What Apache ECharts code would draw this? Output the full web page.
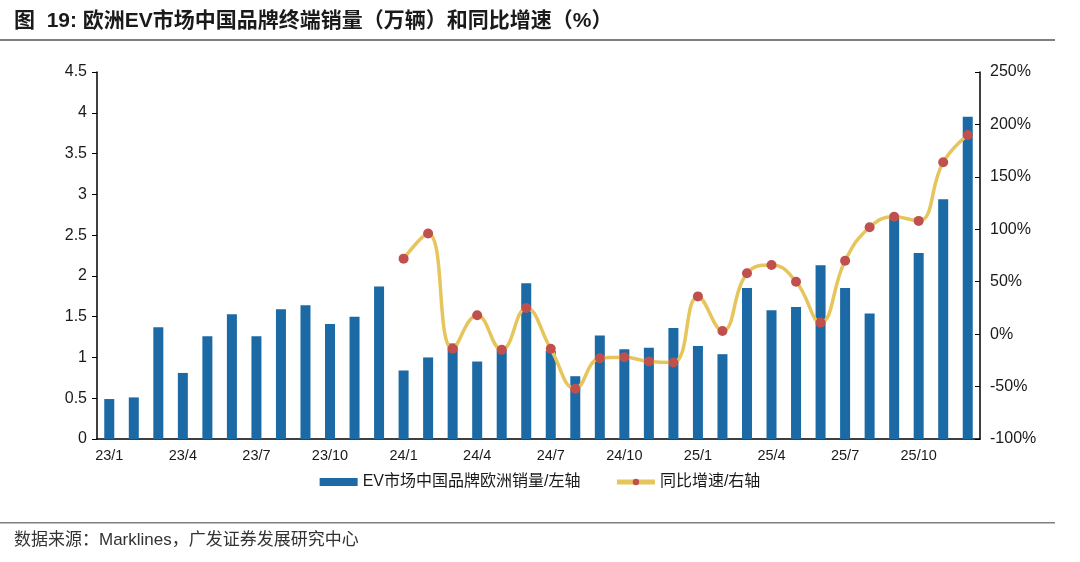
<!DOCTYPE html>
<html><head><meta charset="utf-8">
<script src="https://cdn.jsdelivr.net/npm/echarts@6/dist/echarts.min.js"></script>
<style>html,body{margin:0;padding:0;background:#fff}#c{width:1080px;height:562px}</style>
</head><body><div id="c"></div>
<script>
const months = ['23/1','23/2','23/3','23/4','23/5','23/6','23/7','23/8','23/9','23/10','23/11','23/12',
 '24/1','24/2','24/3','24/4','24/5','24/6','24/7','24/8','24/9','24/10','24/11','24/12',
 '25/1','25/2','25/3','25/4','25/5','25/6','25/7','25/8','25/9','25/10','25/11','25/12'];
const sales = [0.49,0.51,1.37,0.81,1.26,1.53,1.26,1.59,1.64,1.41,1.50,1.87,
 0.84,1.00,1.17,0.95,1.10,1.91,1.08,0.77,1.27,1.10,1.12,1.36,
 1.14,1.04,1.85,1.58,1.62,2.13,1.85,1.54,2.74,2.28,2.94,3.95];
const yoy = [null,null,null,null,null,null,null,null,null,null,null,null,
 72,96,-14,18,-15,25,-14,-52,-23,-22,-26,-27,
 36,3,58,66,50,11,70,102,112,108,164,190];
const leftTicks = {min:0,max:4.5,interval:0.5};
const rightTicks = {min:-100,max:250,interval:50};
const titleText = '图  19: 欧洲EV市场中国品牌终端销量（万辆）和同比增速（%）';
const sourceText = '数据来源：Marklines，广发证券发展研究中心';
const barName = 'EV市场中国品牌欧洲销量/左轴';
const lineName = '同比增速/右轴';

const chart = echarts.init(document.getElementById('c'));
const font = 'Liberation Sans, Arial, Noto Sans CJK SC, sans-serif';
chart.setOption({
  animation:false,
  textStyle:{fontFamily:font},
  grid:{left:97,right:100,top:72,bottom:123},
  graphic:[
    {type:'text',left:14,top:11,style:{text:titleText,font:'bold 21px '+font,fill:'#1a1a1a'}},
    {type:'rect',shape:{x:0,y:39,width:1055,height:2},style:{fill:'#7f7f7f'}},
    {type:'rect',shape:{x:0,y:522,width:1055,height:1.5},style:{fill:'#7f7f7f'}},
    {type:'text',left:14,top:532,style:{text:sourceText,font:'17px '+font,fill:'#333'}}
  ],
  legend:{bottom:67,left:'center',itemGap:34,itemWidth:38,itemHeight:8,
    textStyle:{fontSize:16,color:'#1a1a1a'},
    data:[{name:barName,icon:'rect'},{name:lineName,lineStyle:{width:5}}]},
  xAxis:{type:'category',data:months,boundaryGap:true,
    axisLine:{lineStyle:{color:'#000',width:1.5}},
    axisTick:{interval:2,length:5,lineStyle:{color:'#000'}},
    axisLabel:{interval:2,color:'#1a1a1a',fontSize:14.5,margin:10}},
  yAxis:[
    {type:'value',min:leftTicks.min,max:leftTicks.max,interval:leftTicks.interval,
     splitLine:{show:false},
     axisLine:{show:true,lineStyle:{color:'#000',width:1.5}},
     axisTick:{show:true,length:5,lineStyle:{color:'#000'}},
     axisLabel:{color:'#1a1a1a',fontSize:16,margin:10}},
    {type:'value',min:rightTicks.min,max:rightTicks.max,interval:rightTicks.interval,
     splitLine:{show:false},
     axisLine:{show:true,lineStyle:{color:'#000',width:1.5}},
     axisTick:{show:true,inside:true,length:5,lineStyle:{color:'#000'}},
     axisLabel:{color:'#1a1a1a',fontSize:16,margin:10,formatter:'{value}%'}}
  ],
  series:[
    {name:barName,type:'bar',data:sales,barWidth:10,yAxisIndex:0,
     itemStyle:{color:'#1b6aa5'}},
    {name:lineName,type:'line',data:yoy,yAxisIndex:1,smooth:0.45,
     symbol:'circle',symbolSize:10,
     lineStyle:{color:'#e6c55c',width:3.5},
     itemStyle:{color:'#c0504d',borderWidth:0}}
  ]
});
</script></body></html>
